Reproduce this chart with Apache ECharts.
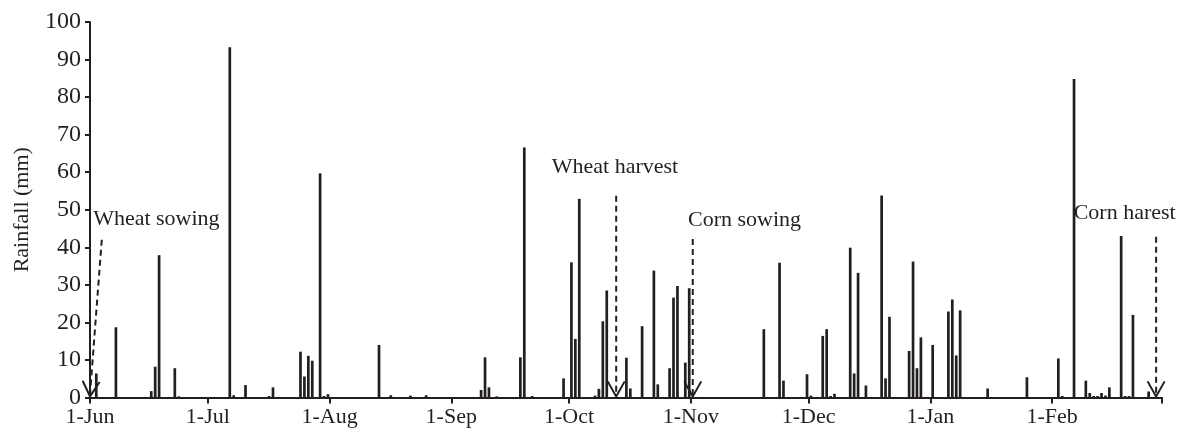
<!DOCTYPE html>
<html><head><meta charset="utf-8">
<script src="https://cdn.jsdelivr.net/npm/echarts@6/dist/echarts.min.js"></script>
<style>html,body{margin:0;padding:0;background:#fff}#c{width:1184px;height:434px}</style>
</head><body><div id="c"></div>
<script>
// ---- data ----
const monthNames   = ['Jun','Jul','Aug','Sep','Oct','Nov','Dec','Jan','Feb'];
const monthLengths = [30, 31, 31, 30, 31, 30, 31, 31, 28];
const xTickLabels  = ['1-Jun','1-Jul','1-Aug','1-Sep','1-Oct','1-Nov','1-Dec','1-Jan','1-Feb'];
const yTickValues  = [0,10,20,30,40,50,60,70,80,90,100];

const rainDates = [
  '2-Jun','7-Jun','16-Jun','17-Jun','18-Jun','22-Jun','23-Jun',
  '6-Jul','7-Jul','10-Jul','16-Jul','17-Jul','24-Jul','25-Jul','26-Jul','27-Jul','29-Jul','30-Jul','31-Jul',
  '13-Aug','16-Aug','21-Aug','25-Aug',
  '8-Sep','9-Sep','10-Sep','12-Sep','18-Sep','19-Sep','21-Sep','29-Sep',
  '1-Oct','2-Oct','3-Oct','7-Oct','8-Oct','9-Oct','10-Oct','15-Oct','16-Oct','19-Oct','22-Oct','23-Oct',
  '26-Oct','27-Oct','28-Oct','30-Oct','31-Oct',
  '19-Nov','23-Nov','24-Nov','30-Nov',
  '1-Dec','4-Dec','5-Dec','6-Dec','7-Dec','11-Dec','12-Dec','13-Dec','15-Dec','19-Dec','20-Dec','21-Dec',
  '26-Dec','27-Dec','28-Dec','29-Dec',
  '1-Jan','5-Jan','6-Jan','7-Jan','8-Jan','15-Jan','25-Jan',
  '2-Feb','3-Feb','6-Feb','9-Feb','10-Feb','11-Feb','12-Feb','13-Feb','14-Feb','15-Feb','18-Feb','19-Feb',
  '20-Feb','21-Feb','25-Feb'
];
const rainValues = [
  6.4, 18.7, 1.7, 8.2, 37.9, 7.8, 0.3,
  93.3, 0.6, 3.3, 0.4, 2.7, 12.2, 5.6, 11.1, 9.8, 59.7, 0.4, 0.9,
  14.0, 0.6, 0.5, 0.6,
  2.0, 10.7, 2.7, 0.3, 10.7, 66.6, 0.4, 5.1,
  36.0, 15.6, 52.9, 0.5, 2.3, 20.3, 28.5, 10.6, 2.4, 19.0, 33.8, 3.5,
  7.8, 26.6, 29.7, 9.3, 29.1,
  18.2, 35.9, 4.5, 6.2,
  0.5, 16.4, 18.2, 0.4, 1.0, 39.9, 6.4, 33.2, 3.2, 53.8, 5.1, 21.5,
  12.4, 36.2, 7.8, 16.0,
  14.0, 22.9, 26.1, 11.2, 23.2, 2.4, 5.4,
  10.4, 0.4, 84.8, 4.5, 1.2, 0.4, 0.4, 1.2, 0.5, 2.7, 43.0, 0.4,
  0.4, 22.0, 1.6
];

const eventLabels = ['Wheat sowing','Wheat harvest','Corn sowing','Corn harest'];
const eventDates  = ['1-Jun','13-Oct','1-Nov','27-Feb'];

// ---- helpers ----
const monthStart = [];
(function(){ let s = 0; monthLengths.forEach(l => { monthStart.push(s); s += l; }); })();
const totalDays = monthLengths.reduce((a,b)=>a+b,0);
function dayIndex(str){
  const p = str.split('-');
  return monthStart[monthNames.indexOf(p[1])] + (+p[0]) - 1;
}
const tickDays = monthStart.concat([totalDays]);
const labelByDay = {};
monthStart.forEach((d,i)=>{ labelByDay[d] = xTickLabels[i]; });

// ---- layout for annotations (data coords: x offset in days, y in mm) ----
const annLayout = [
  {tipDx: 0.0, tipY: 0.3, startDx: 3.0, startY: 42, textDx: 0.8,   textY: 47.6},
  {tipDx: 0.0, tipY: 0.3, startDx: 0.0, startY: 53.7, textDx: -16.4, textY: 61.4},
  {tipDx: 0.5, tipY: 0.3, startDx: 0.5, startY: 42.2, textDx: -0.7, textY: 47.3},
  {tipDx: 0.5, tipY: 0.3, startDx: 0.5, startY: 42.8, textDx: -20.5, textY: 49.2}
];

const FONT = '"Liberation Serif", "Times New Roman", serif';
const INK = '#231f20';

const chart = echarts.init(document.getElementById('c'), null, {renderer:'canvas'});
chart.setOption({
  animation: false,
  backgroundColor: '#fff',
  grid: {left: 90, right: 22, top: 22, bottom: 36.5, containLabel: false},
  xAxis: {
    type: 'value', min: 0, max: totalDays,
    axisLine: {show: true, onZero: false, lineStyle: {color: INK, width: 2}},
    axisTick: {show: true, customValues: tickDays, length: 6, lineStyle: {color: INK, width: 2}},
    axisLabel: {customValues: monthStart, formatter: v => labelByDay[v] || '',
                fontFamily: FONT, fontSize: 22, color: INK, margin: 9},
    splitLine: {show: false}
  },
  yAxis: {
    type: 'value', min: 0, max: 100, interval: 10,
    name: 'Rainfall (mm)', nameLocation: 'middle', nameGap: 57, nameRotate: 90,
    nameTextStyle: {fontFamily: FONT, fontSize: 22, color: INK},
    axisLine: {show: true, lineStyle: {color: INK, width: 2}},
    axisTick: {show: true, length: 5, lineStyle: {color: INK, width: 2}},
    axisLabel: {fontFamily: FONT, fontSize: 24, color: INK, margin: 9,
                formatter: v => yTickValues.indexOf(v) >= 0 ? String(v) : ''},
    splitLine: {show: false}
  },
  series: [{
    type: 'bar',
    barWidth: 2.7,
    itemStyle: {color: INK},
    data: rainDates.map((d,i) => [dayIndex(d) + 0.6, rainValues[i]])
  }]
});

// annotations
const graphics = [];
eventLabels.forEach((lab, i) => {
  const L = annLayout[i];
  const d0 = dayIndex(eventDates[i]);
  const tip = chart.convertToPixel({gridIndex: 0}, [d0 + L.tipDx, L.tipY]);
  const st  = chart.convertToPixel({gridIndex: 0}, [d0 + L.startDx, L.startY]);
  const tx  = chart.convertToPixel({gridIndex: 0}, [d0 + L.textDx, L.textY]);
  graphics.push({type: 'text', x: tx[0], y: tx[1],
    style: {text: lab, font: '22px ' + FONT, fill: INK, align: 'left', verticalAlign: 'middle',
            textAlign: 'left', textVerticalAlign: 'middle'}});
  graphics.push({type: 'line', shape: {x1: st[0], y1: st[1], x2: tip[0], y2: tip[1] - 2},
    style: {stroke: INK, lineWidth: 2, lineDash: [6, 4]}});
  const dx = tip[0] - st[0], dy = tip[1] - st[1], len = Math.hypot(dx, dy);
  const ux = dx/len, uy = dy/len, nx = -uy, ny = ux;
  const back = 15, half = 8.5;
  graphics.push({type: 'polyline', shape: {points: [
      [tip[0] - ux*back + nx*half, tip[1] - uy*back + ny*half],
      [tip[0], tip[1]],
      [tip[0] - ux*back - nx*half, tip[1] - uy*back - ny*half]]},
    style: {stroke: INK, lineWidth: 2, fill: null}});
});
chart.setOption({graphic: graphics});
</script></body></html>
